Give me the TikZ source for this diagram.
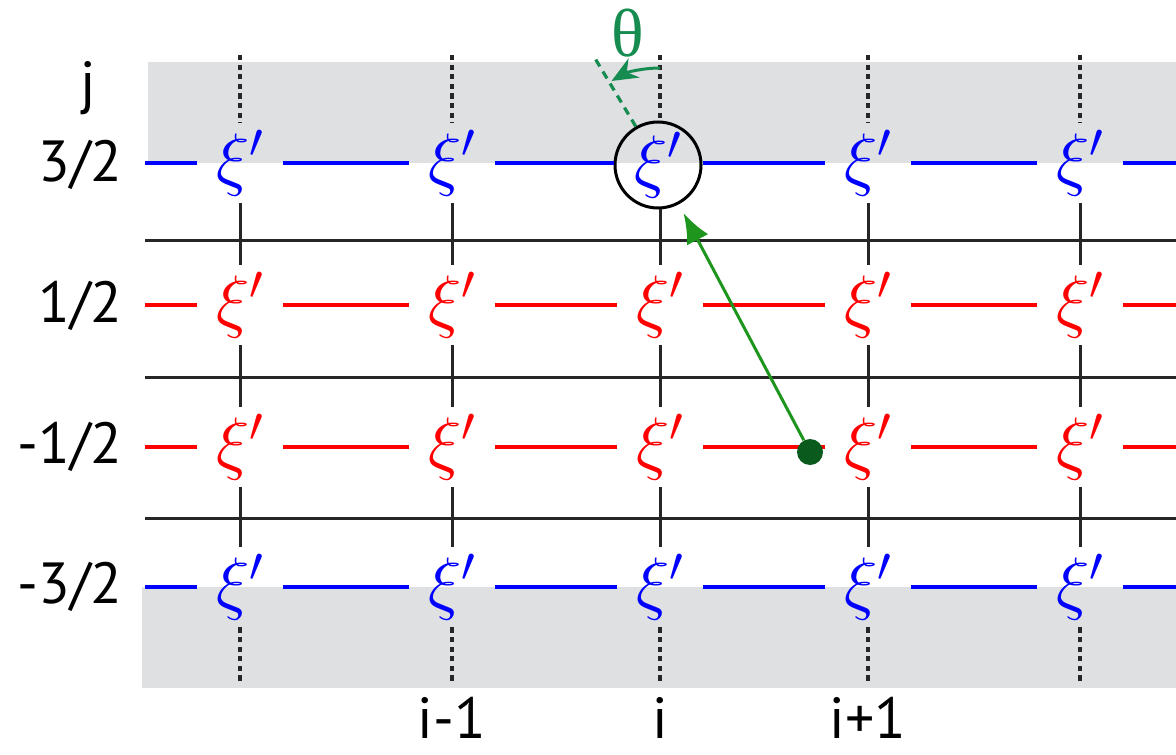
\RequirePackage{fix-cm}
\documentclass[tikz,border=0pt]{standalone}
\usepackage{fontspec}
\setmainfont{PT Sans}
\newfontfamily\thetafont{Liberation Serif}
\usetikzlibrary{arrows.meta, calc}
\definecolor{bandgrey}{RGB}{223,224,226}
\definecolor{thetagreen}{RGB}{22,140,80}
\definecolor{arrowgreen}{RGB}{30,150,30}
\definecolor{dotgreen}{RGB}{10,90,30}
\newcommand{\xip}{\smash{\raisebox{-0.28em}{$\xi'$}}}
\tikzset{
    xib/.style={
        text=blue, minimum width=43pt, minimum height=40pt, inner sep=0pt,
        font=\fontsize{35}{35}\selectfont
    },
    xir/.style={
        xib, text=red
    },
    bline/.style={
        draw=blue, line width=2pt
    },
    rline/.style={
        draw=red, line width=2pt
    },
    blk/.style={
        draw=black!85, line width=1.5pt
    },
    dots/.style={
        draw=black!85, line width=1.6pt, dash pattern=on 2.6pt off 2.2pt
    },
    lbl/.style={
        font=\fontsize{29}{34}\selectfont, inner sep=0pt
    },
    garrow/.style={
        draw=arrowgreen, line width=1.5pt, -{Latex[length=15pt, width=12pt]}
    }
}

\begin{document}
\begin{tikzpicture}[x=0.5pt, y=-0.5pt]
        \useasboundingbox (0,0) rectangle (1176,754);

        \fill[bandgrey] (148,62) rectangle (1176,163);
        \fill[bandgrey] (142,587) rectangle (1176,688);

        % free ends
        \coordinate (L1) at (145,163);   \coordinate (R1) at (1176,163);
        \coordinate (L2) at (145,305);   \coordinate (R2) at (1176,305);
        \coordinate (L3) at (145,447);   \coordinate (R3) at (1176,447);
        \coordinate (L4) at (145,587);   \coordinate (R4) at (1176,587);
        \coordinate (la) at (145,240);   \coordinate (ra) at (1176,240);
        \coordinate (lb) at (145,377);   \coordinate (rb) at (1176,377);
        \coordinate (lc) at (145,518);   \coordinate (rc) at (1176,518);
        \coordinate (T1) at (240,55);    \coordinate (B1) at (240,684);
        \coordinate (T2) at (452,55);    \coordinate (B2) at (452,684);
        \coordinate (T3) at (660,55);    \coordinate (B3) at (660,684);
        \coordinate (T4) at (868,55);    \coordinate (B4) at (868,684);
        \coordinate (T5) at (1080,55);   \coordinate (B5) at (1080,684);

        \node[xib] (U1) at (240,163) {\xip};
        \node[xib] (U2) at (452,163) {\xip};
        \node[xib, circle, draw=black, line width=1.5pt] (U3) at (658,165) {\xip};
        \node[xib] (U4) at (868,163) {\xip};
        \node[xib] (U5) at (1080,163) {\xip};

        \node[xir] (P1) at (240,305) {\xip};
        \node[xir] (P2) at (452,305) {\xip};
        \node[xir] (P3) at (660,305) {\xip};
        \node[xir] (P4) at (868,305) {\xip};
        \node[xir] (P5) at (1080,305) {\xip};

        \node[xir] (M1) at (240,447) {\xip};
        \node[xir] (M2) at (452,447) {\xip};
        \node[xir] (M3) at (660,447) {\xip};
        \node[xir] (M4) at (868,447) {\xip};
        \node[xir] (M5) at (1080,447) {\xip};

        \node[xib] (D1) at (240,587) {\xip};
        \node[xib] (D2) at (452,587) {\xip};
        \node[xib] (D3) at (660,587) {\xip};
        \node[xib] (D4) at (868,587) {\xip};
        \node[xib] (D5) at (1080,587) {\xip};

        \path (L1) edge[bline] (U1)  (U1) edge[bline] (U2)  (U2) edge[bline] (U3.west |- L1)
                (U3.east |- L1) edge[bline] (U4)  (U4) edge[bline] (U5)  (U5) edge[bline] (R1)
                (L2) edge[rline] (P1)  (P1) edge[rline] (P2)  (P2) edge[rline] (P3)
                (P3) edge[rline] (P4)  (P4) edge[rline] (P5)  (P5) edge[rline] (R2)
                (L3) edge[rline] (M1)  (M1) edge[rline] (M2)  (M2) edge[rline] (M3)
                (M3) edge[rline] (M4)  (M4) edge[rline] (M5)  (M5) edge[rline] (R3)
                (L4) edge[bline] (D1)  (D1) edge[bline] (D2)  (D2) edge[bline] (D3)
                (D3) edge[bline] (D4)  (D4) edge[bline] (D5)  (D5) edge[bline] (R4);

        \path (la) edge[blk] (ra)
                (lb) edge[blk] (rb)
                (lc) edge[blk] (rc);

        \path (U1) edge[blk] (P1)  (P1) edge[blk] (M1)  (M1) edge[blk] (D1)
                (U2) edge[blk] (P2)  (P2) edge[blk] (M2)  (M2) edge[blk] (D2)
                (U3.south -| P3) edge[blk] (P3)  (P3) edge[blk] (M3)  (M3) edge[blk] (D3)
                (U4) edge[blk] (P4)  (P4) edge[blk] (M4)  (M4) edge[blk] (D4)
                (U5) edge[blk] (P5)  (P5) edge[blk] (M5)  (M5) edge[blk] (D5);

        \path (T1) edge[dots] (U1)  (D1) edge[dots] (B1)
                (T2) edge[dots] (U2)  (D2) edge[dots] (B2)
                (T3) edge[dots] (U3.north -| T3)  (D3) edge[dots] (B3)
                (T4) edge[dots] (U4)  (D4) edge[dots] (B4)
                (T5) edge[dots] (U5)  (D5) edge[dots] (B5);

        % angle theta
        \coordinate (tilt) at (593,55);
        \draw[thetagreen, line width=1.6pt, dash pattern=on 4pt off 3pt] (U3.120) -- (tilt);
        \draw[thetagreen, line width=1.5pt, -{Stealth[length=13pt, width=11pt]}]
                (U3) ++(2,-97) arc[start angle=-90, end angle=-120, radius=97];
        \node[text=thetagreen, font=\thetafont\fontsize{34}{36}\selectfont] (theta) at (628,33) {θ};

        % moving point
        \node[circle, fill=dotgreen, minimum size=13pt, inner sep=0pt] (dot) at (810,452) {};
        \path (dot) edge[garrow, shorten >=5pt] (U3);

        \node[lbl] (jl) at (88,88) {j};
        \node[lbl, anchor=east] (r1) at (123,165) {3/2};
        \node[lbl, anchor=east] (r2) at (123,306) {1/2};
        \node[lbl, anchor=east] (r3) at (123,447) {-1/2};
        \node[lbl, anchor=east] (r4) at (123,587) {-3/2};

        \node[lbl, anchor=base] (c2) at (452,738) {i-1};
        \node[lbl, anchor=base] (c3) at (660,738) {i};
        \node[lbl, anchor=base] (c4) at (868,738) {i+1};
    \end{tikzpicture}
\end{document}
